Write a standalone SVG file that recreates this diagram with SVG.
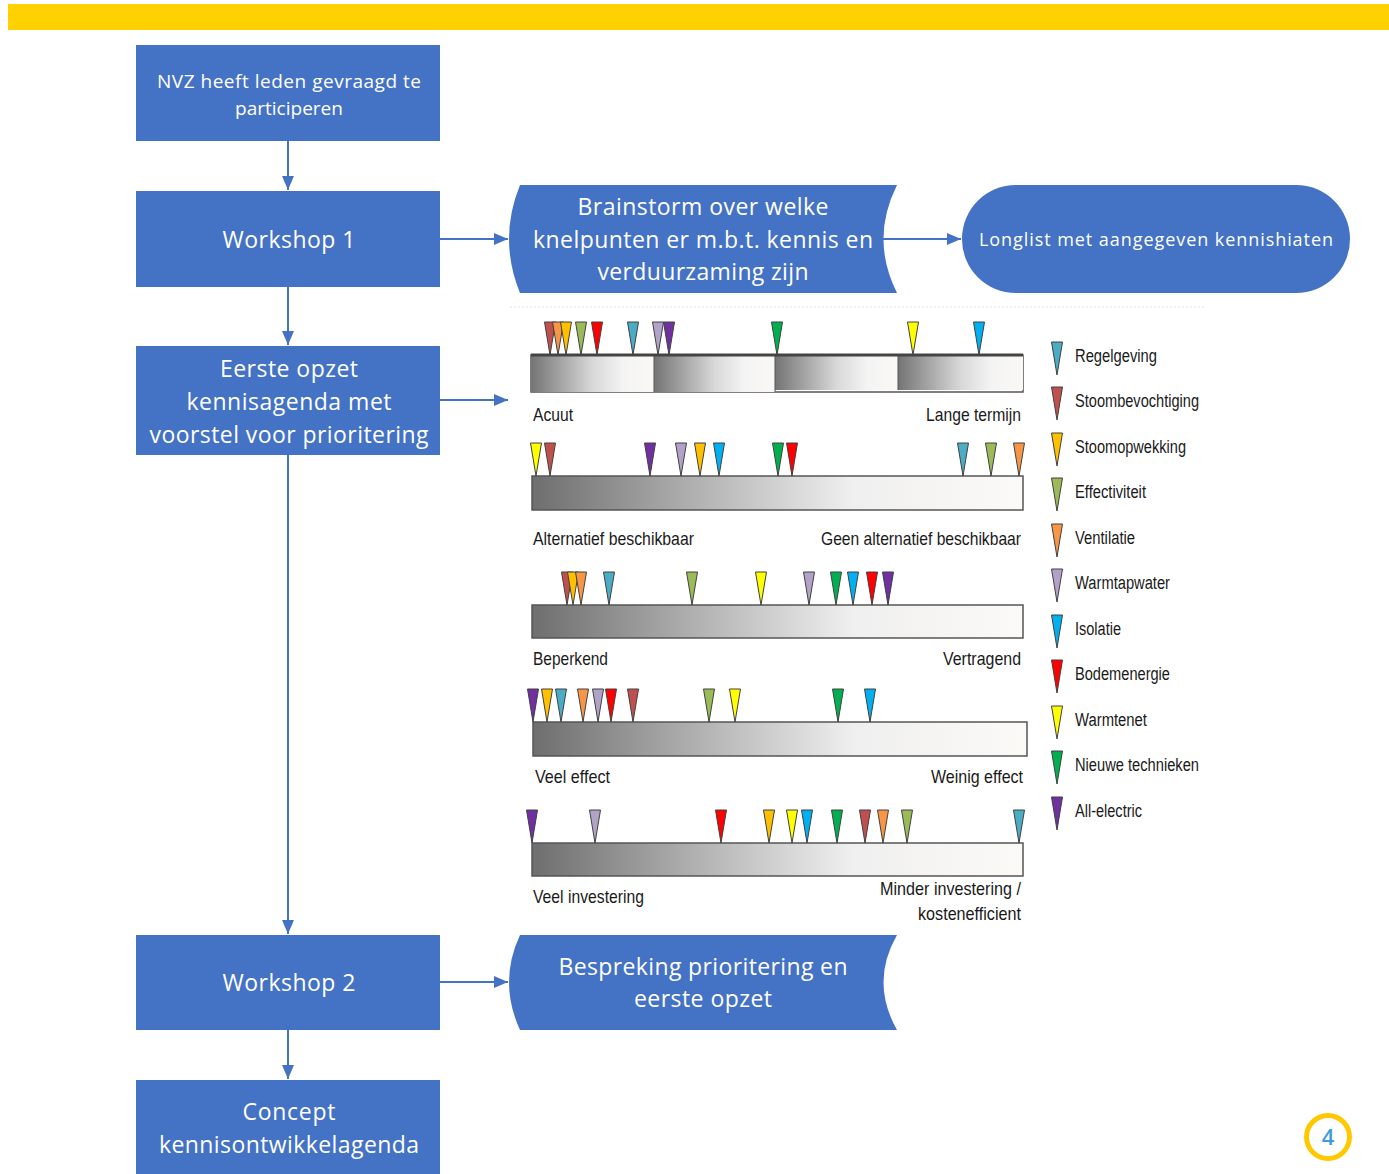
<svg xmlns="http://www.w3.org/2000/svg" xmlns:xlink="http://www.w3.org/1999/xlink" width="1389" height="1174" viewBox="0 0 1389 1174">
<style>
.box{fill:#4472C4}
.bt{fill:#fff;font-family:"Open Sans","Noto Sans",sans-serif;text-anchor:middle}
.conn{stroke:#4472C4;stroke-width:2;fill:none}
.lbl{font-family:"Liberation Sans Narrow","Liberation Sans",sans-serif;font-size:19px;fill:#1a1a1a}
.leg{font-family:"Liberation Sans Narrow","Liberation Sans",sans-serif;font-size:18px;fill:#1a1a1a}
.bar{stroke:#555;stroke-width:1.5}
.reg{fill:#4BACC6}.stb{fill:#C0504D}.sto{fill:#FFC000}.eff{fill:#9BBB59}.ven{fill:#F79646}.wtw{fill:#B3A2C7}.iso{fill:#00B0F0}.bod{fill:#FF0000}.wtn{fill:#FFFF00}.nwt{fill:#00B050}.ael{fill:#7030A0}
</style>
<defs>
<marker id="ah" markerWidth="14" markerHeight="12" refX="14" refY="6" orient="auto" markerUnits="userSpaceOnUse">
<path d="M0,0 L14,6 L0,12 Z" fill="#4472C4"/>
</marker>
<linearGradient id="g" x1="0" y1="0" x2="1" y2="0">
<stop offset="0" stop-color="#6e6e6e"/>
<stop offset="0.45" stop-color="#c8c8c8"/>
<stop offset="0.65" stop-color="#efefef"/>
<stop offset="1" stop-color="#fcfaf7"/>
</linearGradient>
<linearGradient id="gs" x1="0" y1="0" x2="1" y2="0">
<stop offset="0" stop-color="#747474"/>
<stop offset="0.5" stop-color="#d8d8d8"/>
<stop offset="0.75" stop-color="#f4f4f4"/>
<stop offset="1" stop-color="#faf8f5"/>
</linearGradient>
<path id="tri" d="M-5.5,0 L5.5,0 L0,33 Z" stroke="#404040" stroke-width="1"/>
</defs>
<rect x="8" y="4" width="1381" height="26" fill="#FFD100"/>
<line x1="510" y1="307" x2="1205" y2="307" stroke="#e2e2e2" stroke-width="1" stroke-dasharray="2,2"/>

<g id="connectors">
<line class="conn" x1="288" y1="141" x2="288" y2="190" marker-end="url(#ah)"/>
<line class="conn" x1="440" y1="239" x2="508" y2="239" marker-end="url(#ah)"/>
<line class="conn" x1="883" y1="239" x2="961" y2="239" marker-end="url(#ah)"/>
<line class="conn" x1="288" y1="287" x2="288" y2="345" marker-end="url(#ah)"/>
<line class="conn" x1="440" y1="400" x2="508" y2="400" marker-end="url(#ah)"/>
<line class="conn" x1="288" y1="455" x2="288" y2="934" marker-end="url(#ah)"/>
<line class="conn" x1="440" y1="982" x2="508" y2="982" marker-end="url(#ah)"/>
<line class="conn" x1="288" y1="1030" x2="288" y2="1079" marker-end="url(#ah)"/>
</g>

<g id="node-nvz">
<rect class="box" x="136" y="45" width="304" height="96"/>
<text class="bt" font-size="19" x="289" y="88" textLength="264">NVZ heeft leden gevraagd te</text>
<text class="bt" font-size="19" x="289" y="115">participeren</text>
</g>
<g id="node-ws1">
<rect class="box" x="136" y="191" width="304" height="96"/>
<text class="bt" font-size="23" x="289" y="248" textLength="133">Workshop 1</text>
</g>
<g id="node-brainstorm">
<path class="box" d="M520,185 L897,185 Q870,239 897,293 L520,293 Q498,239 520,185 Z"/>
<text class="bt" font-size="23" x="703" y="215" textLength="251">Brainstorm over welke</text>
<text class="bt" font-size="23" x="703" y="248" textLength="340">knelpunten er m.b.t. kennis en</text>
<text class="bt" font-size="23" x="703" y="280" textLength="211">verduurzaming zijn</text>
</g>
<g id="node-longlist">
<rect class="box" x="962" y="185" width="388" height="108" rx="54" ry="54"/>
<text class="bt" font-size="18" x="1156" y="246" textLength="354">Longlist met aangegeven kennishiaten</text>
</g>
<g id="node-opzet">
<rect class="box" x="136" y="346" width="304" height="109"/>
<text class="bt" font-size="23" x="289" y="377" textLength="138">Eerste opzet</text>
<text class="bt" font-size="23" x="289" y="410" textLength="205">kennisagenda met</text>
<text class="bt" font-size="23" x="289" y="443" textLength="279">voorstel voor prioritering</text>
</g>
<g id="node-ws2">
<rect class="box" x="136" y="935" width="304" height="95"/>
<text class="bt" font-size="23" x="289" y="991" textLength="133">Workshop 2</text>
</g>
<g id="node-bespreking">
<path class="box" d="M520,935 L897,935 Q870,982 897,1030 L520,1030 Q498,982 520,935 Z"/>
<text class="bt" font-size="23" x="703" y="975" textLength="289">Bespreking prioritering en</text>
<text class="bt" font-size="23" x="703" y="1007" textLength="138">eerste opzet</text>
</g>
<g id="node-concept">
<rect class="box" x="136" y="1080" width="304" height="94"/>
<text class="bt" font-size="23" x="289" y="1120" textLength="93">Concept</text>
<text class="bt" font-size="23" x="289" y="1153" textLength="260">kennisontwikkelagenda</text>
</g>

<g id="chart">
<rect x="531" y="355" width="492" height="37" fill="#fff" class="bar"/>
<rect x="531" y="356" width="123" height="36" fill="url(#gs)"/>
<rect x="654" y="356" width="121" height="36" fill="url(#gs)"/>
<rect x="775" y="356" width="123" height="34" fill="url(#gs)"/>
<rect x="898" y="356" width="125" height="34" fill="url(#gs)"/>
<line x1="654" y1="356" x2="654" y2="392" stroke="#555"/>
<line x1="775" y1="356" x2="775" y2="392" stroke="#555"/>
<line x1="898" y1="356" x2="898" y2="390" stroke="#555"/>
<line x1="531" y1="355" x2="1023" y2="355" stroke="#444" stroke-width="3"/>
<use href="#tri" x="550" y="322" class="stb"/><use href="#tri" x="558" y="322" class="ven"/><use href="#tri" x="566" y="322" class="sto"/><use href="#tri" x="581" y="322" class="eff"/><use href="#tri" x="597" y="322" class="bod"/><use href="#tri" x="633" y="322" class="reg"/><use href="#tri" x="658" y="322" class="wtw"/><use href="#tri" x="669" y="322" class="ael"/><use href="#tri" x="777" y="322" class="nwt"/><use href="#tri" x="913" y="322" class="wtn"/><use href="#tri" x="979" y="322" class="iso"/>
<text class="lbl" x="533" y="421" textLength="40" lengthAdjust="spacingAndGlyphs">Acuut</text>
<text class="lbl" x="926" y="421" textLength="95" lengthAdjust="spacingAndGlyphs">Lange termijn</text>
<rect x="532" y="476" width="491" height="34" fill="url(#g)" class="bar"/>
<use href="#tri" x="536" y="443" class="wtn"/><use href="#tri" x="550" y="443" class="stb"/><use href="#tri" x="650" y="443" class="ael"/><use href="#tri" x="681" y="443" class="wtw"/><use href="#tri" x="700" y="443" class="sto"/><use href="#tri" x="719" y="443" class="iso"/><use href="#tri" x="778" y="443" class="nwt"/><use href="#tri" x="792" y="443" class="bod"/><use href="#tri" x="963" y="443" class="reg"/><use href="#tri" x="991" y="443" class="eff"/><use href="#tri" x="1019" y="443" class="ven"/>
<text class="lbl" x="533" y="545" textLength="161" lengthAdjust="spacingAndGlyphs">Alternatief beschikbaar</text>
<text class="lbl" x="821" y="545" textLength="200" lengthAdjust="spacingAndGlyphs">Geen alternatief beschikbaar</text>
<rect x="532" y="605" width="491" height="33" fill="url(#g)" class="bar"/>
<use href="#tri" x="567" y="572" class="stb"/><use href="#tri" x="573" y="572" class="sto"/><use href="#tri" x="581" y="572" class="ven"/><use href="#tri" x="609" y="572" class="reg"/><use href="#tri" x="692" y="572" class="eff"/><use href="#tri" x="761" y="572" class="wtn"/><use href="#tri" x="809" y="572" class="wtw"/><use href="#tri" x="836" y="572" class="nwt"/><use href="#tri" x="853" y="572" class="iso"/><use href="#tri" x="872" y="572" class="bod"/><use href="#tri" x="888" y="572" class="ael"/>
<text class="lbl" x="533" y="665" textLength="75" lengthAdjust="spacingAndGlyphs">Beperkend</text>
<text class="lbl" x="943" y="665" textLength="78" lengthAdjust="spacingAndGlyphs">Vertragend</text>
<rect x="533" y="722" width="494" height="34" fill="url(#g)" class="bar"/>
<use href="#tri" x="533" y="689" class="ael"/><use href="#tri" x="547" y="689" class="sto"/><use href="#tri" x="561" y="689" class="reg"/><use href="#tri" x="583" y="689" class="ven"/><use href="#tri" x="598" y="689" class="wtw"/><use href="#tri" x="611" y="689" class="bod"/><use href="#tri" x="633" y="689" class="stb"/><use href="#tri" x="709" y="689" class="eff"/><use href="#tri" x="735" y="689" class="wtn"/><use href="#tri" x="838" y="689" class="nwt"/><use href="#tri" x="870" y="689" class="iso"/>
<text class="lbl" x="535" y="783" textLength="75" lengthAdjust="spacingAndGlyphs">Veel effect</text>
<text class="lbl" x="931" y="783" textLength="92" lengthAdjust="spacingAndGlyphs">Weinig effect</text>
<rect x="532" y="843" width="491" height="33" fill="url(#g)" class="bar"/>
<use href="#tri" x="532" y="810" class="ael"/><use href="#tri" x="595" y="810" class="wtw"/><use href="#tri" x="721" y="810" class="bod"/><use href="#tri" x="769" y="810" class="sto"/><use href="#tri" x="792" y="810" class="wtn"/><use href="#tri" x="807" y="810" class="iso"/><use href="#tri" x="837" y="810" class="nwt"/><use href="#tri" x="865" y="810" class="stb"/><use href="#tri" x="883" y="810" class="ven"/><use href="#tri" x="907" y="810" class="eff"/><use href="#tri" x="1019" y="810" class="reg"/>
<text class="lbl" x="533" y="903" textLength="111" lengthAdjust="spacingAndGlyphs">Veel investering</text>
<text class="lbl" x="880" y="895" textLength="141" lengthAdjust="spacingAndGlyphs">Minder investering /</text>
<text class="lbl" x="918" y="920" textLength="103" lengthAdjust="spacingAndGlyphs">kostenefficient</text>
</g>

<g id="legend">
<use href="#tri" x="1057" y="342" class="reg"/><text class="leg" x="1075" y="362" textLength="82" lengthAdjust="spacingAndGlyphs">Regelgeving</text>
<use href="#tri" x="1057" y="387" class="stb"/><text class="leg" x="1075" y="407" textLength="124" lengthAdjust="spacingAndGlyphs">Stoombevochtiging</text>
<use href="#tri" x="1057" y="433" class="sto"/><text class="leg" x="1075" y="453" textLength="111" lengthAdjust="spacingAndGlyphs">Stoomopwekking</text>
<use href="#tri" x="1057" y="478" class="eff"/><text class="leg" x="1075" y="498" textLength="71" lengthAdjust="spacingAndGlyphs">Effectiviteit</text>
<use href="#tri" x="1057" y="524" class="ven"/><text class="leg" x="1075" y="544" textLength="60" lengthAdjust="spacingAndGlyphs">Ventilatie</text>
<use href="#tri" x="1057" y="569" class="wtw"/><text class="leg" x="1075" y="589" textLength="95" lengthAdjust="spacingAndGlyphs">Warmtapwater</text>
<use href="#tri" x="1057" y="615" class="iso"/><text class="leg" x="1075" y="635" textLength="46" lengthAdjust="spacingAndGlyphs">Isolatie</text>
<use href="#tri" x="1057" y="660" class="bod"/><text class="leg" x="1075" y="680" textLength="95" lengthAdjust="spacingAndGlyphs">Bodemenergie</text>
<use href="#tri" x="1057" y="706" class="wtn"/><text class="leg" x="1075" y="726" textLength="72" lengthAdjust="spacingAndGlyphs">Warmtenet</text>
<use href="#tri" x="1057" y="751" class="nwt"/><text class="leg" x="1075" y="771" textLength="124" lengthAdjust="spacingAndGlyphs">Nieuwe technieken</text>
<use href="#tri" x="1057" y="797" class="ael"/><text class="leg" x="1075" y="817" textLength="67" lengthAdjust="spacingAndGlyphs">All-electric</text>
</g>

<g id="page-number">
<circle cx="1328" cy="1137" r="21.5" fill="#fff" stroke="#FFC800" stroke-width="5"/>
<text x="1328" y="1145" font-family="Open Sans, sans-serif" font-size="22" font-weight="600" fill="#3D9BD8" text-anchor="middle">4</text>
</g>
</svg>
